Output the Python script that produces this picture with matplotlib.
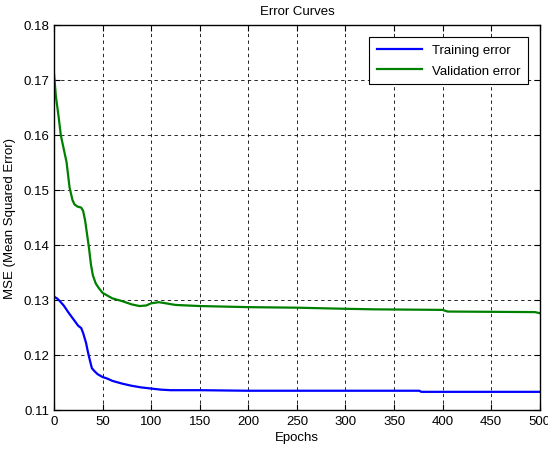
import numpy as np
import matplotlib
matplotlib.use('Agg')
import matplotlib.pyplot as plt

plt.rcParams['font.family'] = ['Liberation Sans', 'DejaVu Sans']

# Training error curve
ep_train = [0, 3, 6, 10, 15, 20, 25, 28, 30, 33, 35, 37, 39, 42, 45, 50, 55, 60, 70, 80, 90,
            100, 110, 120, 150, 200, 250, 300, 376, 378, 500]
mse_train = [0.1306, 0.1303, 0.1298, 0.1290, 0.1277, 0.1265, 0.1253, 0.1249, 0.1240, 0.1222,
             0.1205, 0.1190, 0.1176, 0.1170, 0.1165, 0.1160, 0.1157, 0.1153, 0.1148, 0.1144,
             0.1141, 0.1139, 0.1137, 0.1136, 0.1136, 0.1135, 0.1135, 0.1135, 0.1135, 0.1133,
             0.1133]

# Validation error curve
ep_val = [0, 2, 5, 7, 10, 13, 16, 19, 21, 24, 28, 30, 32, 34, 36, 38, 40, 43, 46, 50, 55, 60,
          70, 80, 88, 95, 100, 108, 115, 125, 150, 200, 250, 300, 330, 400, 405, 495, 500]
mse_val = [0.1712, 0.1670, 0.1630, 0.1600, 0.1575, 0.1550, 0.1505, 0.1482, 0.1474, 0.1470,
           0.1468, 0.1462, 0.1445, 0.1420, 0.1395, 0.1365, 0.1345, 0.1330, 0.1322, 0.1313,
           0.1308, 0.1303, 0.1298, 0.1292, 0.1289, 0.1290, 0.1294, 0.1296, 0.1294, 0.1291,
           0.1289, 0.1287, 0.1286, 0.1284, 0.1283, 0.1282, 0.1279, 0.1278, 0.1276]

fig = plt.figure(figsize=(5.48, 4.56), dpi=100)
ax = fig.add_axes([0.0985, 0.0987, 0.8865, 0.8443])

ax.plot(ep_train, mse_train, color=(0, 0, 1), linewidth=1.6, label='Training error')
ax.plot(ep_val, mse_val, color=(0, 0.5, 0), linewidth=1.6, label='Validation error')

ax.set_xlim(0, 500)
ax.set_ylim(0.11, 0.18)
ax.set_xticks(np.arange(0, 501, 50))
ax.set_yticks(np.arange(0.11, 0.1801, 0.01))
ax.set_yticklabels(['%.2f' % v for v in np.arange(0.11, 0.1801, 0.01)])
ax.tick_params(direction='in', labelsize=9.5, length=4, top=True, right=True, width=0.8)
ax.grid(True, color='black', linestyle=(0, (4, 4)), linewidth=0.6)
for s in ax.spines.values():
    s.set_linewidth(1.0)

ax.set_title('Error Curves', fontsize=9.5, pad=8)
ax.set_xlabel('Epochs', fontsize=9.5, labelpad=3)
ax.set_ylabel('MSE (Mean Squared Error)', fontsize=9.5, labelpad=5)

leg = ax.legend(loc='upper right', fontsize=9.5, fancybox=False, framealpha=1,
                edgecolor='black', handlelength=3.4, borderaxespad=0.9,
                borderpad=0.55, labelspacing=0.6)
leg.get_frame().set_linewidth(0.8)

fig.savefig('out.png', dpi=100)
